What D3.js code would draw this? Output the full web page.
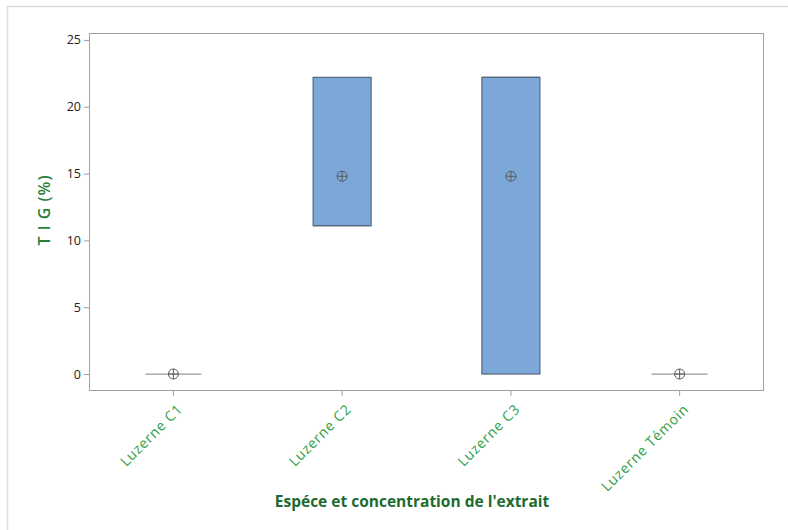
<!DOCTYPE html>
<html><head><meta charset="utf-8">
<script src="https://cdn.jsdelivr.net/npm/d3@7"></script>
<style>body{margin:0;background:#fff}svg{display:block}</style>
</head><body>
<svg id="c" width="788" height="530"></svg>
<script>
const categories = ["Luzerne C1","Luzerne C2","Luzerne C3","Luzerne Témoin"];
const q1 = [0, 11.1, 0, 0];
const q3 = [0, 22.2, 22.2, 0];
const medians = [0, 11.1, 22.2, 0];
const means = [0, 14.8, 14.8, 0];
const yTicks = [0, 5, 10, 15, 20, 25];
const yTitle = "T I G (%)";
const xTitle = "Espéce et concentration de l'extrait";

const svg = d3.select("#c");
const font = "'Open Sans', 'Noto Sans', sans-serif";
// outer frame
svg.append("path").attr("d","M7.5,540 V6.5 H800").attr("fill","none").attr("stroke","#dcdcdc").attr("stroke-width",1.5);

const L=89, R=764, T=33, B=391;
const x = d3.scaleBand().domain(categories).range([L,R]).padding(0);
const y = d3.scaleLinear().domain([-1.27, 25.52]).range([B,T]);

svg.append("rect").attr("x",L+0.5).attr("y",T+0.5).attr("width",R-L-1).attr("height",B-T-1)
  .attr("fill","none").attr("stroke","#a0a0a0");

const ya = svg.append("g").attr("transform",`translate(${L},0)`)
  .call(d3.axisLeft(y).tickValues(yTicks).tickSize(5).tickPadding(3).tickFormat(d3.format("d")));
ya.select(".domain").remove();
ya.selectAll("line").attr("stroke","#a0a0a0");
ya.selectAll("text").attr("font-family",font).attr("font-size",12.5).attr("fill","#222");

const xa = svg.append("g").attr("transform",`translate(0,${B})`)
  .call(d3.axisBottom(x).tickSize(5).tickPadding(4));
xa.select(".domain").remove();
xa.selectAll("line").attr("stroke","#a0a0a0");
xa.selectAll("text").attr("font-family",font).attr("font-size",14).attr("fill","#2e9e44")
  .attr("text-anchor","end").attr("dy",null).attr("y",0)
  .attr("transform","translate(10,19) rotate(-45)").attr("letter-spacing",0.8);

const bw = 58;
const g = svg.append("g");
categories.forEach((c,i)=>{
  const cx = x(c)+x.bandwidth()/2;
  if (q3[i] > q1[i]) {
    g.append("rect").attr("x",cx-bw/2).attr("y",y(q3[i])).attr("width",bw).attr("height",y(q1[i])-y(q3[i]))
      .attr("fill","#7ca7d9").attr("stroke","#56677c").attr("stroke-width",1.2);
    g.append("line").attr("x1",cx-bw/2).attr("x2",cx+bw/2).attr("y1",y(medians[i])).attr("y2",y(medians[i]))
      .attr("stroke","#56677c").attr("stroke-width",1.2);
  } else {
    g.append("line").attr("x1",cx-bw/2+1).attr("x2",cx+bw/2-1).attr("y1",y(medians[i])).attr("y2",y(medians[i]))
      .attr("stroke","#9a9a9a").attr("stroke-width",1.2);
  }
  const my = y(means[i]);
  g.append("circle").attr("cx",cx).attr("cy",my).attr("r",5).attr("fill","none").attr("stroke","#5a5a5a").attr("stroke-width",1);
  g.append("line").attr("x1",cx-5).attr("x2",cx+5).attr("y1",my).attr("y2",my).attr("stroke","#5a5a5a");
  g.append("line").attr("x1",cx).attr("x2",cx).attr("y1",my-5).attr("y2",my+5).attr("stroke","#5a5a5a");
});

svg.append("text").attr("transform",`translate(50,210) rotate(-90)`).attr("text-anchor","middle")
  .attr("font-family",font).attr("font-size",16).attr("font-weight","600").attr("letter-spacing",1)
  .attr("fill","#2a7f38").text(yTitle);
svg.append("text").attr("x",412).attr("y",507).attr("text-anchor","middle")
  .attr("font-family",font).attr("font-size",15.5).attr("font-weight","700").attr("fill","#1e6b2e").text(xTitle);
</script>
</body></html>
